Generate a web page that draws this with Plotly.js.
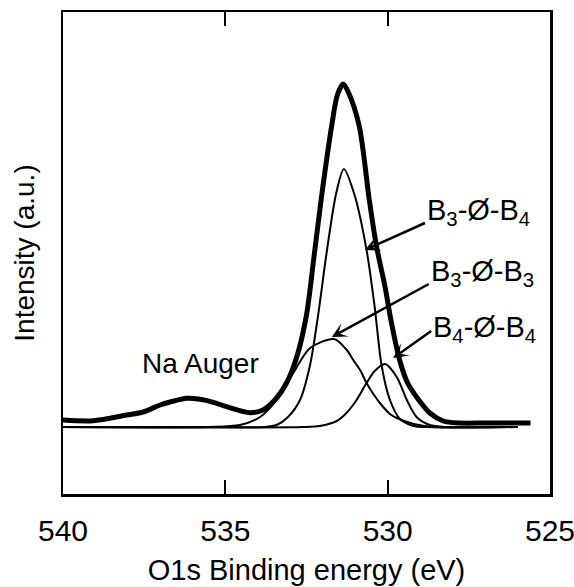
<!DOCTYPE html>
<html>
<head>
<meta charset="utf-8">
<script src="https://cdn.plot.ly/plotly-3.0.1.min.js"></script>
<style>html,body{margin:0;padding:0;background:#fff;}</style>
</head>
<body>
<div id="chart" style="width:574px;height:587px;"></div>
<script>
// ---- data (binding energy in eV, intensity in arbitrary units) ----
const energyTotal = [540.0, 539.07, 538.04, 537.53, 537.01, 536.70, 536.19, 535.78, 535.37, 534.96, 534.24, 533.84, 533.42, 533.1, 532.8, 532.5, 532.27, 532.03, 531.72, 531.55, 531.37, 531.2, 530.87, 530.57, 530.34, 530.08, 529.9, 529.64, 529.4, 529.11, 528.7, 528.29, 527.8, 527.0, 526.3, 525.6];
const intensityTotal = [7, 6.3, 12, 15, 22, 25, 28.7, 27.7, 24.7, 20.3, 14.3, 17, 29, 45, 70, 112, 170, 232, 302, 332, 343, 334, 300, 228, 180, 140, 107, 68, 45, 30, 14, 6, 4, 4, 4, 4];

const energyB34 = [540, 535, 533.8, 533.42, 533.07, 532.70, 532.39, 532.15, 531.89, 531.59, 531.35, 531.02, 530.65, 530.40, 530.19, 529.93, 529.62, 529.2, 528.8, 526];
const intensityB34 = [0, 0, 0, 2, 10, 27, 62, 110, 172, 233, 258, 232, 177, 120, 62, 27, 8, 1, 0, 0];

const energyB33 = [540, 535.5, 534.55, 533.93, 533.42, 532.91, 532.39, 531.65, 531.26, 531.06, 530.85, 530.65, 530.44, 530.24, 529.93, 529.72, 529.2, 528.6, 526];
const intensityB33 = [0, 0, 2, 10, 27, 54, 79, 88, 77, 67, 57, 44, 33, 24, 13, 9, 3, 0, 0];

const energyB44 = [540, 532.6, 532.09, 531.57, 531.3, 531.0, 530.65, 530.4, 530.08, 529.72, 529.41, 529.11, 528.7, 528.2, 526];
const intensityB44 = [0, 0, 1, 6, 13, 25, 44, 56, 63, 50, 27, 10, 2, 0, 0];

const tickValues = [540, 535, 530, 525];
const tickLabels = ['540', '535', '530', '525'];

const componentLabels = ['B<sub>3</sub>-Ø-B<sub>4</sub>', 'B<sub>3</sub>-Ø-B<sub>3</sub>', 'B<sub>4</sub>-Ø-B<sub>4</sub>'];
const arrowTipEnergy = [530.70, 531.72, 529.83];
const arrowTipIntensity = [177, 90, 69];
const arrowTailDx = [60, 97, 38];
const arrowTailDy = [-27, -53, -27];

const augerLabel = 'Na Auger';
const augerEnergy = 535.78;
const augerIntensity = 64;

// ---- chart ----
const FONT = 'Liberation Sans, Arial, Helvetica, sans-serif';
const labelBoxHeights = [58, 58, 40];

function thin(x, y, name) {
  return {x: x, y: y, name: name, type: 'scatter', mode: 'lines',
          line: {color: '#000', width: 2, shape: 'spline', smoothing: 0.8},
          hoverinfo: 'skip'};
}

const traces = [
  thin(energyB34, intensityB34, 'B3-O-B4'),
  thin(energyB33, intensityB33, 'B3-O-B3'),
  thin(energyB44, intensityB44, 'B4-O-B4'),
  {x: energyTotal, y: intensityTotal, name: 'O1s', type: 'scatter', mode: 'lines',
   line: {color: '#000', width: 5, shape: 'spline', smoothing: 0.8}, hoverinfo: 'skip'}
];

const annotations = [];
for (let i = 0; i < componentLabels.length; i++) {
  annotations.push({x: arrowTipEnergy[i], y: arrowTipIntensity[i], xref: 'x', yref: 'y',
    text: componentLabels[i], showarrow: true, arrowhead: 3, arrowsize: 1, arrowwidth: 2.5, arrowcolor: '#000',
    ax: arrowTailDx[i], ay: arrowTailDy[i], standoff: 0,
    xanchor: 'left', yanchor: 'middle', valign: 'top', height: labelBoxHeights[i],
    font: {family: FONT, size: 29, color: '#000'}});
}
annotations.push({x: augerEnergy, y: augerIntensity, xref: 'x', yref: 'y', text: augerLabel,
  showarrow: false, xanchor: 'center', yanchor: 'middle', font: {family: FONT, size: 28, color: '#000'}});

const layout = {
  width: 574, height: 587,
  margin: {l: 63, r: 24, t: 12, b: 93, pad: 0},
  paper_bgcolor: '#fff', plot_bgcolor: '#fff',
  showlegend: false,
  font: {family: FONT, color: '#000'},
  xaxis: {
    range: [540, 525], showline: true, mirror: 'ticks', linecolor: '#000', linewidth: 2.5,
    ticks: 'inside', ticklen: 14, tickwidth: 2, tickcolor: '#000',
    tickvals: tickValues, ticktext: tickLabels, tickfont: {family: FONT, size: 30, color: '#000'},
    ticklabelstandoff: 8, ticklabeloverflow: 'allow',
    showgrid: false, zeroline: false,
    title: {text: 'O1s Binding energy (eV)', font: {family: FONT, size: 29, color: '#000'}, standoff: 14}
  },
  yaxis: {
    range: [-67, 415], showline: true, mirror: true, linecolor: '#000', linewidth: 2.5,
    ticks: '', showticklabels: false, showgrid: false, zeroline: false,
    title: {text: 'Intensity (a.u.)', font: {family: FONT, size: 28, color: '#000'}, standoff: 18}
  },
  annotations: annotations
};

Plotly.newPlot('chart', traces, layout, {staticPlot: true, displayModeBar: false});
</script>
</body>
</html>
